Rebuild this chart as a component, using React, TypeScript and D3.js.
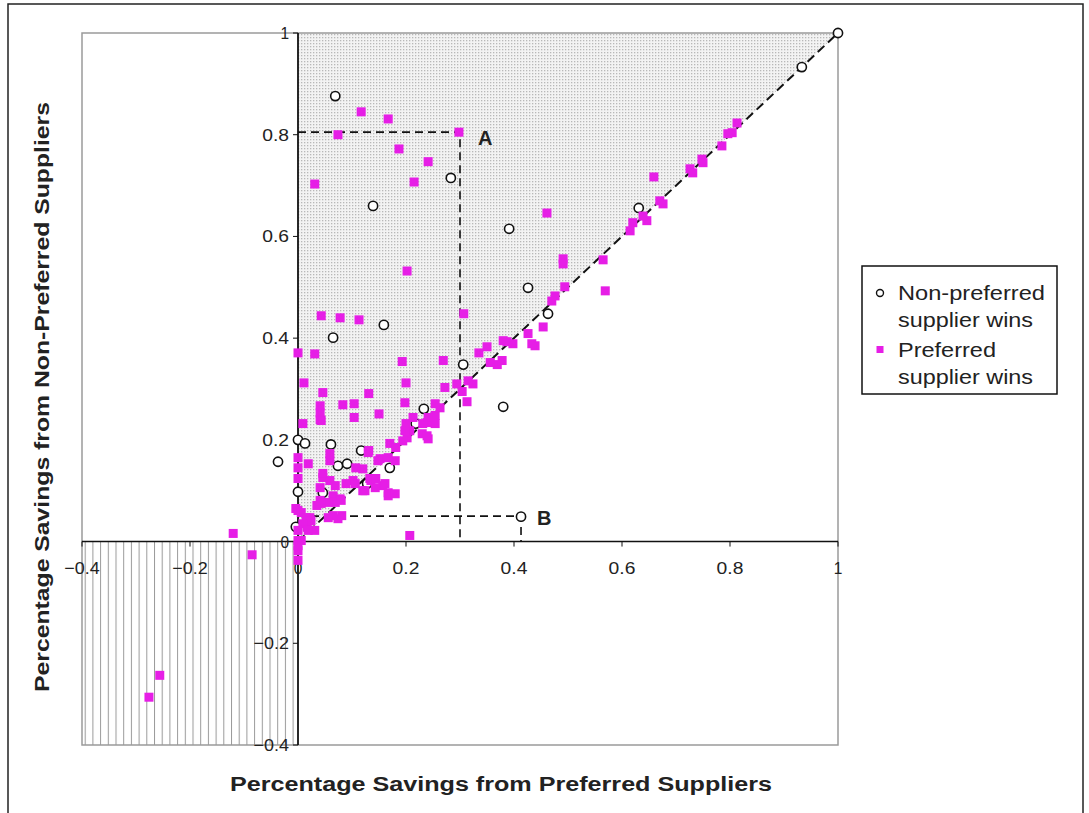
import React from 'react';
import * as d3 from 'd3';

// Non-preferred supplier wins: [preferred savings, non-preferred savings]
const nonPreferred: [number, number][] = [
  [1.0, 1.0], [0.933, 0.933], [0.069, 0.876], [0.139, 0.66], [0.283, 0.715],
  [0.391, 0.615], [0.426, 0.499], [0.463, 0.448], [0.631, 0.656], [0.065, 0.401],
  [0.159, 0.426], [0.306, 0.348], [0.38, 0.265], [0.413, 0.049], [0.233, 0.261],
  [0.218, 0.232], [0.0, 0.2], [0.013, 0.193], [0.061, 0.191], [0.117, 0.179],
  [0.074, 0.149], [0.091, 0.153], [0.17, 0.145], [0.128, 0.114], [0.0, 0.098],
  [0.046, 0.096], [-0.004, 0.029], [-0.037, 0.157],
];

// Preferred supplier wins
const preferred: [number, number][] = [
  [0.117, 0.845], [0.167, 0.831], [0.074, 0.8], [0.298, 0.805], [0.187, 0.772],
  [0.241, 0.747], [0.215, 0.707], [0.031, 0.703], [0.202, 0.532], [0.043, 0.444],
  [0.078, 0.44], [0.113, 0.436], [0.307, 0.448], [0.0, 0.371], [0.031, 0.369],
  [0.193, 0.354], [0.269, 0.356], [0.011, 0.312], [0.2, 0.312], [0.272, 0.303],
  [0.294, 0.31], [0.335, 0.371], [0.35, 0.383], [0.38, 0.395], [0.369, 0.348],
  [0.324, 0.31], [0.046, 0.293], [0.131, 0.291], [0.041, 0.267], [0.041, 0.253],
  [0.041, 0.24], [0.083, 0.269], [0.104, 0.271], [0.104, 0.244], [0.15, 0.251],
  [0.198, 0.273], [0.313, 0.275], [0.009, 0.232], [0.2, 0.232], [0.207, 0.218],
  [0.202, 0.204], [0.254, 0.248], [0.254, 0.232], [0.239, 0.234], [0.23, 0.212],
  [0.241, 0.202], [0.17, 0.193], [0.131, 0.179], [0.152, 0.163], [0.18, 0.159],
  [0.0, 0.165], [0.0, 0.145], [0.019, 0.153], [0.059, 0.159], [0.046, 0.126],
  [0.059, 0.12], [0.102, 0.12], [0.12, 0.143], [0.133, 0.124], [0.157, 0.11],
  [0.167, 0.09], [0.12, 0.1], [0.0, 0.124], [0.065, 0.09], [0.078, 0.084],
  [0.041, 0.081], [0.035, 0.071], [0.074, 0.045], [0.081, 0.051], [0.022, 0.047],
  [0.0, 0.061], [0.0, 0.002], [0.0, -0.018], [0.017, 0.028], [0.031, 0.022],
  [0.207, 0.012], [0.461, 0.646], [0.491, 0.556], [0.491, 0.546], [0.494, 0.501],
  [0.565, 0.554], [0.569, 0.493], [0.476, 0.483], [0.47, 0.473], [0.454, 0.422],
  [0.426, 0.409], [0.439, 0.385], [0.433, 0.389], [0.387, 0.393], [0.398, 0.389],
  [0.356, 0.352], [0.378, 0.356], [0.62, 0.627], [0.615, 0.611], [0.813, 0.823],
  [0.804, 0.804], [0.796, 0.802], [0.785, 0.778], [0.748, 0.752], [0.75, 0.745],
  [0.726, 0.733], [0.731, 0.725], [0.659, 0.717], [0.67, 0.67], [0.676, 0.664],
  [0.646, 0.631], [0.639, 0.64], [0.315, 0.316], [0.254, 0.271], [0.213, 0.244],
  [0.231, 0.232], [0.239, 0.208], [0.043, 0.238], [0.059, 0.173], [0.046, 0.134],
  [0.041, 0.106], [0.069, 0.11], [0.089, 0.114], [0.106, 0.114], [0.107, 0.145],
  [0.13, 0.175], [0.135, 0.12], [0.144, 0.124], [0.161, 0.114], [0.148, 0.159],
  [0.167, 0.165], [0.181, 0.185], [0.194, 0.198], [0.198, 0.218], [0.124, 0.1],
  [0.143, 0.106], [0.167, 0.096], [0.18, 0.094], [0.069, 0.077], [0.08, 0.081],
  [0.056, 0.077], [0.043, 0.075], [-0.004, 0.065], [0.006, 0.057], [0.015, 0.047],
  [0.024, 0.041], [0.009, 0.035], [0.0, 0.022], [0.019, 0.022], [0.065, 0.051],
  [0.056, 0.047], [0.006, 0.002], [0.0, -0.008], [0.0, -0.037], [0.304, 0.295],
  [0.263, 0.263], [0.241, 0.244], [-0.12, 0.016], [-0.085, -0.026], [-0.256, -0.263],
  [-0.276, -0.306],
];

const ticks = [-0.4, -0.2, 0, 0.2, 0.4, 0.6, 0.8, 1];
const pointA: [number, number] = [0.3, 0.805];
const pointB: [number, number] = [0.413, 0.05];

const font = 'Arial, "Liberation Sans", Helvetica, sans-serif';
const magenta = '#e61ee6';

export default function App() {
  const x = d3.scaleLinear().domain([-0.4, 1]).range([82, 838]);
  const y = d3.scaleLinear().domain([-0.4, 1]).range([745, 33]);
  const fmt = (v: number) => (v === 0 ? '0' : v === 1 ? '1' : d3.format('.1f')(v));
  // tick labels in the original are drawn a little wider than Arial
  const labelLen = (s: string) => s.length * 8.6 + (s.includes('.') ? 1 : 0);

  const upper = `M${x(0)},${y(0)}L${x(0)},${y(1)}L${x(1)},${y(1)}Z`;
  const diag = d3.line()([[x(0), y(0)], [x(1), y(1)]]) as string;

  return (
    <svg width={1089} height={813} style={{ position: 'absolute', left: 0, top: 0, background: '#fff' }}>
      <defs>
        <pattern id="dots" width={3} height={3} patternUnits="userSpaceOnUse">
          <rect width={3} height={3} fill="#f3f3f3" />
          <rect x={1} y={1} width={1.3} height={1.3} fill="#b8b8b8" />
        </pattern>
        <pattern id="vlines" width={7.7} height={10} patternUnits="userSpaceOnUse">
          <rect width={7.7} height={10} fill="#fff" />
          <line x1={0.5} y1={0} x2={0.5} y2={10} stroke="#9a9a9a" strokeWidth={1} />
        </pattern>
      </defs>

      {/* outer border */}
      <rect x={8} y={4} width={1075} height={840} fill="none" stroke="#222" strokeWidth={1.5} />

      {/* shaded regions */}
      <path d={upper} fill="url(#dots)" />
      <rect x={x(-0.4)} y={y(0)} width={x(0) - x(-0.4)} height={y(-0.4) - y(0)} fill="url(#vlines)" />

      {/* plot frame */}
      <rect x={x(-0.4)} y={y(1)} width={x(1) - x(-0.4)} height={y(-0.4) - y(1)} fill="none" stroke="#9a9a9a" strokeWidth={1.5} />

      {/* axes */}
      <line x1={x(-0.4)} x2={x(1)} y1={y(0)} y2={y(0)} stroke="#111" strokeWidth={1.5} />
      <line x1={x(0)} x2={x(0)} y1={y(1)} y2={y(-0.4)} stroke="#111" strokeWidth={1.8} />
      {ticks.map((t) => (
        <g key={'xt' + t}>
          <line x1={x(t)} x2={x(t)} y1={y(0)} y2={y(0) + 5} stroke="#111" strokeWidth={1} />
          <text x={x(t)} y={y(0) + 32} textAnchor="middle" fontFamily={font} fontSize={17} fill="#222"
            textLength={labelLen(fmt(t))} lengthAdjust="spacingAndGlyphs">{fmt(t)}</text>
        </g>
      ))}
      {ticks.map((t) => (
        <g key={'yt' + t}>
          <line x1={x(0) - 5} x2={x(0)} y1={y(t)} y2={y(t)} stroke="#111" strokeWidth={1} />
          <text x={x(0) - 9} y={y(t) + 6} textAnchor="end" fontFamily={font} fontSize={17} fill="#222"
            textLength={labelLen(fmt(t))} lengthAdjust="spacingAndGlyphs">{fmt(t)}</text>
        </g>
      ))}

      {/* reference lines */}
      <path d={diag} stroke="#111" strokeWidth={2} strokeDasharray="9,5" fill="none" />
      <path d={`M${x(0)},${y(pointA[1])}H${x(pointA[0])}V${y(0)}`} stroke="#111" strokeWidth={1.6} strokeDasharray="8,5" fill="none" />
      <path d={`M${x(0)},${y(pointB[1])}H${x(pointB[0])}V${y(0)}`} stroke="#111" strokeWidth={1.6} strokeDasharray="8,5" fill="none" />
      <text x={x(pointA[0]) + 18} y={y(pointA[1]) + 13} fontFamily={font} fontSize={20} fontWeight="bold" fill="#222">A</text>
      <text x={x(pointB[0]) + 16} y={y(pointB[1]) + 9} fontFamily={font} fontSize={20} fontWeight="bold" fill="#222">B</text>

      {/* series */}
      {nonPreferred.map((d, i) => (
        <circle key={'n' + i} cx={x(d[0])} cy={y(d[1])} r={4.6} fill="#fff" stroke="#111" strokeWidth={1.6} />
      ))}
      {preferred.map((d, i) => (
        <rect key={'p' + i} x={x(d[0]) - 4.5} y={y(d[1]) - 4.5} width={9} height={9} fill={magenta} />
      ))}

      {/* axis titles */}
      <text x={501} y={791} textAnchor="middle" fontFamily={font} fontSize={20} fontWeight="bold" fill="#222"
        textLength={542} lengthAdjust="spacingAndGlyphs">Percentage Savings from Preferred Suppliers</text>
      <text transform="translate(49,397) rotate(-90)" textAnchor="middle" fontFamily={font} fontSize={20} fontWeight="bold" fill="#222"
        textLength={590} lengthAdjust="spacingAndGlyphs">Percentage Savings from Non-Preferred Suppliers</text>

      {/* legend */}
      <rect x={862} y={266} width={195} height={128} fill="#fff" stroke="#111" strokeWidth={1.5} />
      <circle cx={880} cy={293} r={3.5} fill="#fff" stroke="#111" strokeWidth={1.4} />
      <text x={898} y={300} fontFamily={font} fontSize={20} fill="#222" textLength={147} lengthAdjust="spacingAndGlyphs">Non-preferred</text>
      <text x={898} y={327} fontFamily={font} fontSize={20} fill="#222" textLength={135} lengthAdjust="spacingAndGlyphs">supplier wins</text>
      <rect x={876.5} y={346} width={7} height={7} fill={magenta} />
      <text x={898} y={357} fontFamily={font} fontSize={20} fill="#222" textLength={98} lengthAdjust="spacingAndGlyphs">Preferred</text>
      <text x={898} y={384} fontFamily={font} fontSize={20} fill="#222" textLength={135} lengthAdjust="spacingAndGlyphs">supplier wins</text>
    </svg>
  );
}
